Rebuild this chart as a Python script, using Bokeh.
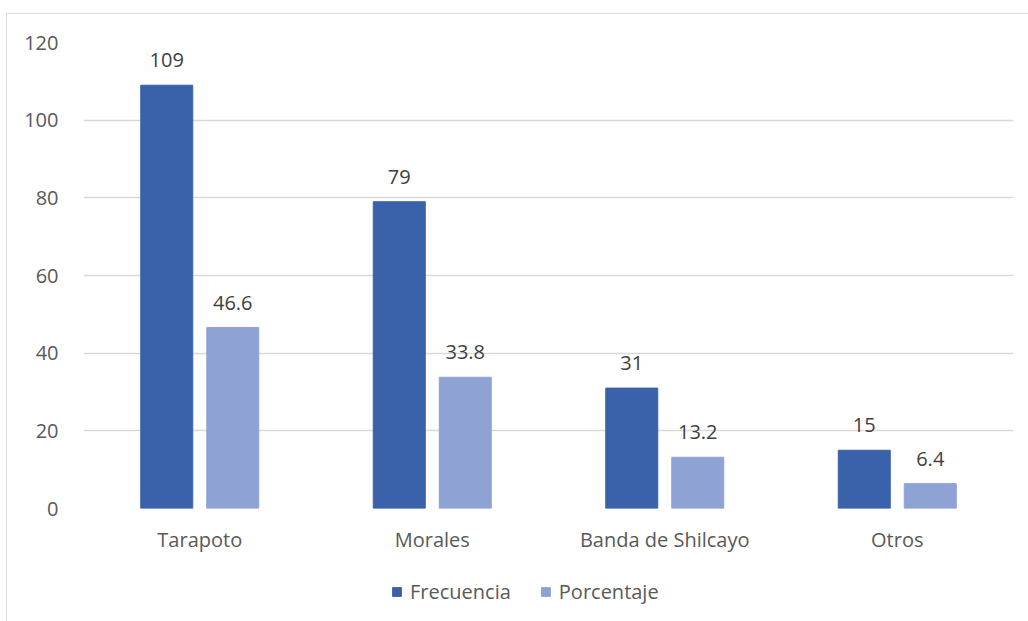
from bokeh.plotting import figure
from bokeh.layouts import column
from bokeh.models import ColumnDataSource, Range1d, FixedTicker, LabelSet, Legend, LegendItem
from bokeh.core.properties import value
from bokeh.embed import file_html
from bokeh.resources import INLINE

categories = ["Tarapoto", "Morales", "Banda de Shilcayo", "Otros"]
series_names = ["Frecuencia", "Porcentaje"]
frecuencia = [109, 79, 31, 15]
porcentaje = [46.6, 33.8, 13.2, 6.4]
frec_labels = ["109", "79", "31", "15"]
porc_labels = ["46.6", "33.8", "13.2", "6.4"]
y_ticks = [0, 20, 40, 60, 80, 100, 120]

FONT = "Open Sans"
FS = "20px"
TXT = "#595959"
C1 = "#3A62AB"
C2 = "#8EA3D4"

centers = [i + 0.5 for i in range(len(categories))]
off = 33 / 232.5
bw = 52 / 232.5

src1 = ColumnDataSource(dict(x=[c - off for c in centers], y=frecuencia, t=frec_labels))
src2 = ColumnDataSource(dict(x=[c + off for c in centers], y=porcentaje, t=porc_labels))

p = figure(width=1022, height=556, output_backend="svg", toolbar_location=None,
           x_range=Range1d(0, 4), y_range=Range1d(0, 120),
           min_border_left=76, min_border_right=16, min_border_top=28, min_border_bottom=62)
p.outline_line_color = None
p.background_fill_color = "white"
p.border_fill_color = "white"

p.vbar(x="x", top="y", width=bw, source=src1, fill_color=C1, line_color=C1)
p.vbar(x="x", top="y", width=bw, source=src2, fill_color=C2, line_color=C2)

for src in (src1, src2):
    lab = LabelSet(x="x", y="y", text="t", source=src, text_align="center",
                   text_baseline="bottom", y_offset=18, text_font=value(FONT),
                   text_font_size=value(FS), text_color=value("#404040"))
    p.add_layout(lab)

p.xgrid.grid_line_color = None
p.ygrid.grid_line_color = "#d9d9d9"
p.ygrid.grid_line_width = 1.5
p.yaxis.ticker = FixedTicker(ticks=y_ticks)
p.xaxis.ticker = FixedTicker(ticks=centers)
p.xaxis.major_label_overrides = {c: n for c, n in zip(centers, categories)}

for ax in (p.xaxis, p.yaxis):
    ax.axis_line_color = None
    ax.major_tick_line_color = None
    ax.minor_tick_line_color = None
    ax.major_label_text_font = FONT
    ax.major_label_text_font_size = FS
    ax.major_label_text_color = TXT
p.yaxis.major_label_standoff = 19
p.xaxis.major_label_standoff = 11

# legend strip
p2 = figure(width=1022, height=51, output_backend="svg", toolbar_location=None,
            x_range=Range1d(0, 1), y_range=Range1d(0, 1),
            min_border_left=0, min_border_right=0, min_border_top=0, min_border_bottom=0)
p2.axis.visible = False
p2.grid.visible = False
p2.outline_line_color = None
l1 = p2.vbar(x=[-5], top=[0], width=0.01, fill_color=C1, line_color=C1)
l2 = p2.vbar(x=[-5], top=[0], width=0.01, fill_color=C2, line_color=C2)
legend = Legend(items=[LegendItem(label=series_names[0], renderers=[l1]),
                       LegendItem(label=series_names[1], renderers=[l2])],
                orientation="horizontal", location=(308, 16),
                label_text_font=FONT, label_text_font_size=FS,
                label_text_color=TXT, border_line_color=None,
                background_fill_alpha=0,
                glyph_width=11, glyph_height=11, spacing=29, label_standoff=8,
                margin=0, padding=4)
p2.add_layout(legend, "center")

layout = column(p, p2, spacing=0)
layout.styles = {"margin-left": "6px", "margin-top": "13px",
                 "border-left": "1px solid #d9d9d9", "border-top": "1px solid #d9d9d9"}

open("out.html", "w").write(file_html(layout, INLINE))
